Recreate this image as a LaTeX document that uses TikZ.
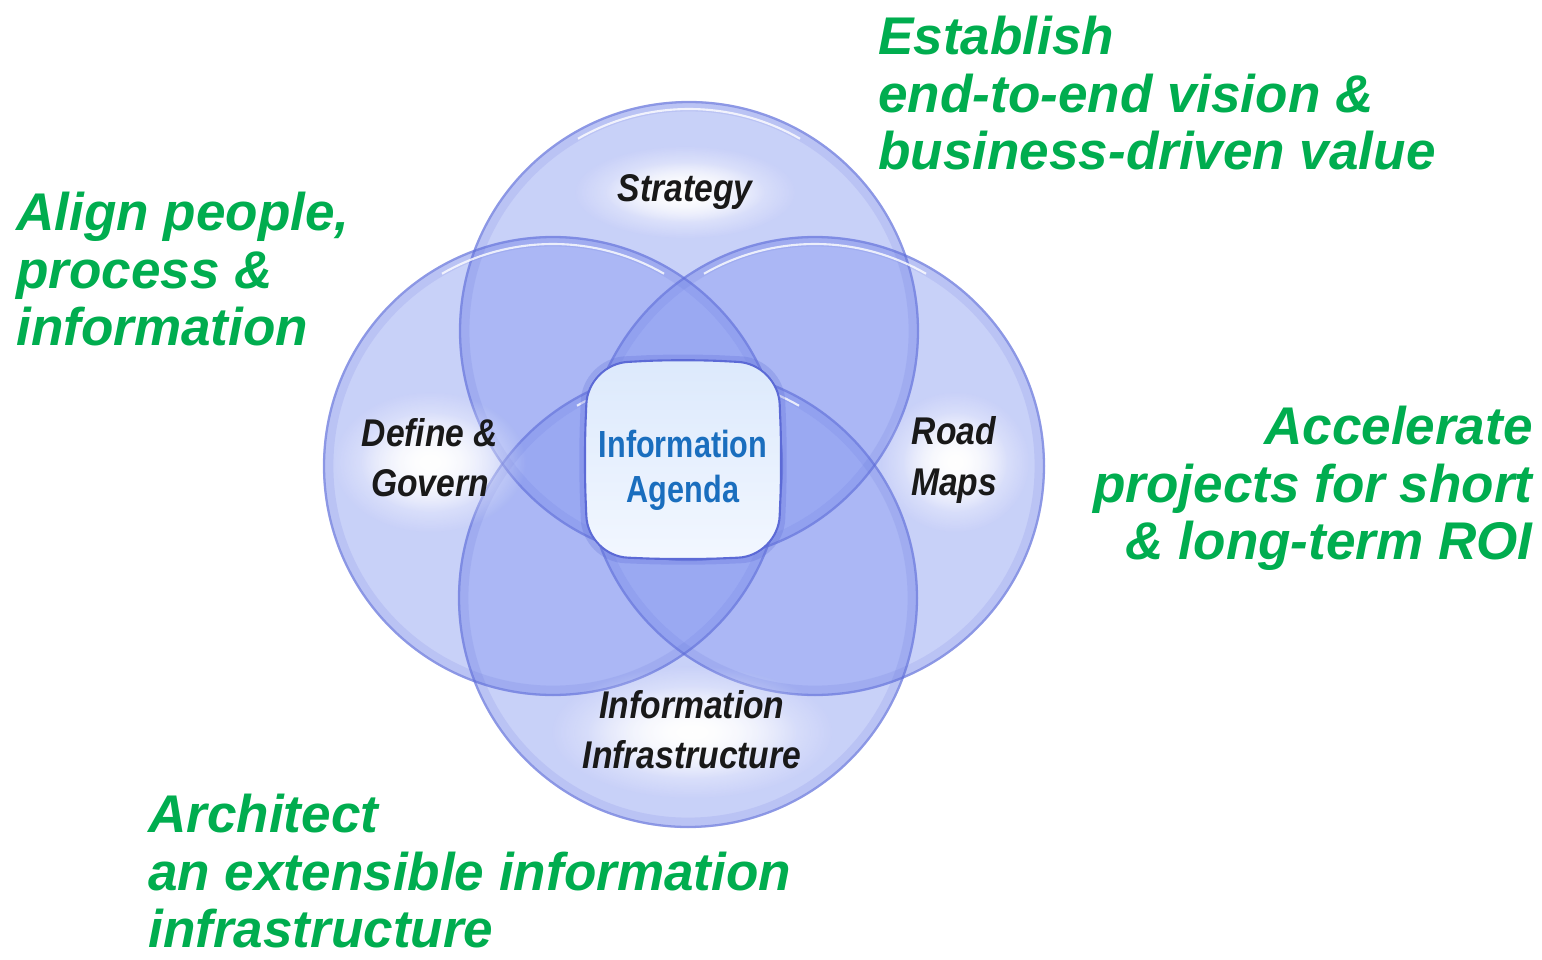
\documentclass[tikz,border=0pt]{standalone}
\usepackage{fontspec}
\setmainfont{Liberation Sans}
\newfontfamily\agendafont{Liberation Sans}[FakeStretch=0.81]
\newfontfamily\partfont{Liberation Sans}[FakeStretch=0.87]
\usetikzlibrary{fadings,calc}

\definecolor{goalgreen}{RGB}{0,173,79}
\definecolor{ringfill}{RGB}{134,152,240}
\definecolor{ringedge}{RGB}{92,106,214}
\definecolor{agendablue}{RGB}{26,110,190}
\definecolor{agendatop}{RGB}{220,233,252}
\definecolor{agendabot}{RGB}{242,247,255}
\tikzfading[name=glowfade, inner color=transparent!0, outer color=transparent!100]

\begin{document}
\begin{tikzpicture}[x=0.02cm,y=-0.02cm]
	\tikzstyle{goal}=[inner sep=0pt, text=goalgreen, font=\fontsize{30.2}{32.7}\selectfont\bfseries\itshape]
	\tikzstyle{ring}=[fill=ringfill, fill opacity=0.45]
	\tikzstyle{rim}=[draw=ringedge, line width=1.3pt, draw opacity=0.55]
	\tikzstyle{softrim}=[draw=ringedge, line width=5pt, draw opacity=0.13]
	\tikzstyle{shine}=[draw=white, line width=1.2pt, draw opacity=0.8]
	\tikzstyle{glow}=[fill=white, path fading=glowfade]
	\tikzstyle{part}=[inner sep=0pt, align=center, text=black!90, font=\partfont\fontsize{22}{28.5}\selectfont\bfseries\itshape]

	\useasboundingbox (0,0) rectangle (1542,960);

	% the four circles
	\coordinate (ctop) at (689,331);
	\coordinate (cleft) at (553,466);
	\coordinate (cright) at (815,466);
	\coordinate (cbot) at (688,598);

	\foreach \c in {ctop,cleft,cright,cbot}
		\fill[ring] (\c) circle[radius=230];
	\foreach \c in {ctop,cleft,cright,cbot}{
		\draw[softrim] (\c) circle[radius=224];
		\draw[rim] (\c) circle[radius=229];
		\draw[shine] ($(\c)+(-120:222)$) arc[start angle=-120, end angle=-60, radius=222];
	}

	% soft white behind the labels
	\fill[glow] (685,192) ellipse (110 and 46);
	\fill[glow] (685,192) ellipse (80 and 30);
	\fill[glow] (430,462) ellipse (96 and 70);
	\fill[glow] (430,462) ellipse (70 and 50);
	\fill[glow] (955,462) ellipse (74 and 70);
	\fill[glow] (955,462) ellipse (52 and 50);
	\fill[glow] (692,732) ellipse (140 and 66);
	\fill[glow] (692,732) ellipse (105 and 46);

	\node[part] (strategy) at (685,192) {Strategy};
	\node[part] (govern) at (430,458) {Define \&\\Govern};
	\node[part] (roadmaps) at (954,460) {Road\\Maps};
	\node[part] (infra) at (692,730) {Information\\Infrastructure};

	% centre box
	\draw[draw=ringedge, line width=3pt, draw opacity=0.25, rounded corners=0.8cm]
		(683,356) -- (781,361) -- (785,460) -- (781,559) -- (683,563) -- (585,559) -- (581,460) -- (585,361) -- cycle;
	\draw[draw=ringedge, line width=1.2pt, top color=agendatop, bottom color=agendabot, rounded corners=0.8cm]
		(683,359) -- (778,364) -- (782,460) -- (778,556) -- (683,560) -- (588,556) -- (584,460) -- (588,364) -- cycle;
	\node[inner sep=0pt, align=center, text=agendablue, font=\agendafont\fontsize{21.5}{25.6}\selectfont\bfseries] (agenda) at (683,470) {Information\\Agenda};

	% goals
	\node[goal, anchor=north west, align=left] (vision) at (878,16) {Establish\\end-to-end vision \&\\business-driven value};
	\node[goal, anchor=north west, align=left] (align) at (16,192) {Align people,\\process \&\\information};
	\node[goal, anchor=north east, align=right] (roi) at (1533,406) {Accelerate\\projects for short\\\& long-term ROI};
	\node[goal, anchor=north west, align=left] (arch) at (148,794) {Architect\\an extensible information\\infrastructure};
\end{tikzpicture}
\end{document}
